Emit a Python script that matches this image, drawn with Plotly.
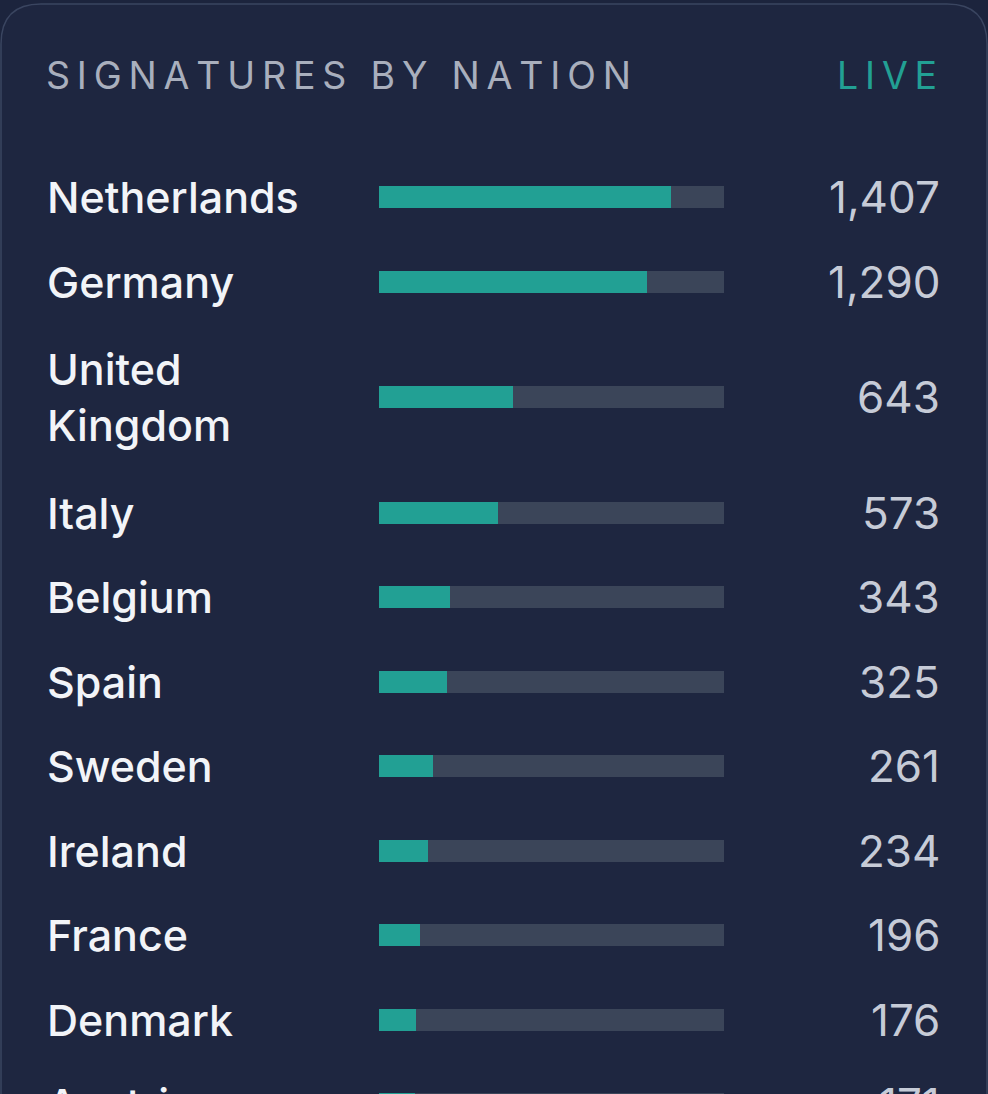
# signatures by nation card - horizontal bars on a dark card
import plotly.graph_objects as go

# data
nations = ["Netherlands", "Germany", "United Kingdom", "Italy", "Belgium", "Spain",
           "Sweden", "Ireland", "France", "Denmark", "Austria"]
signatures = [1407, 1290, 643, 573, 343, 325, 261, 234, 196, 176, 171]
scale_max = 1660  # full length of the grey track

title_text = "SIGNATURES BY NATION"
status_text = "LIVE"

# colours
page_bg = "#1c243d"
card_bg = "#1e2640"
card_border = "#3a4560"
teal = "#22a094"
track = "#3b4559"
name_col = "#f2f4f8"
value_col = "#c6cbd7"
title_col = "#a9afbd"

W, H = 988, 1094
FONT = "Inter, Roboto, sans-serif"


# spread the letters out like css letter-spacing
def spaced(text):
    return "\u2009".join(" " if c == " " else c for c in text)


# long names are wrapped on two lines
def wrap_name(name):
    return name.replace(" ", "<br>") if len(name) > 12 else name


# centre of every row, a two line row is taller
def row_centres(labels, top=154.75, line_h=62, pad=22.5):
    centres = []
    y = top
    for lab in labels:
        h = lab.count("<br>") * line_h + line_h + pad
        centres.append(y + h / 2)
        y += h
    return centres


labels = [wrap_name(n) for n in nations]
ys = row_centres(labels)

fig = go.Figure()
# grey track
fig.add_trace(go.Bar(x=[scale_max] * len(ys), y=ys, orientation="h", width=22,
                     marker=dict(color=track, line=dict(width=0)), hoverinfo="skip"))
# teal fill
fig.add_trace(go.Bar(x=signatures, y=ys, orientation="h", width=22,
                     marker=dict(color=teal, line=dict(width=0)),
                     hovertext=nations, hoverinfo="text+x"))

# the y axis runs in pixels from the top, so paper y is 1 - y / H
# (paper refs keep the half-visible last row on screen)
annotations = []
for lab, v, y in zip(labels, signatures, ys):
    annotations.append(dict(xref="paper", yref="paper", x=45 / W, y=1 - y / H, text=lab,
                            xanchor="left", yanchor="middle", align="left", showarrow=False,
                            font=dict(family=FONT, size=43, color=name_col, weight=500)))
    annotations.append(dict(xref="paper", yref="paper", x=942 / W, y=1 - y / H, text=f"{v:,}",
                            xanchor="right", yanchor="middle", showarrow=False,
                            font=dict(family=FONT, size=44, color=value_col, weight=400)))

annotations.append(dict(xref="paper", yref="paper", x=44 / W, y=1 - 75 / H, text=spaced(title_text),
                        xanchor="left", yanchor="middle", showarrow=False,
                        font=dict(family=FONT, size=37.5, color=title_col, weight=400)))
annotations.append(dict(xref="paper", yref="paper", x=939 / W, y=1 - 75 / H, text=spaced(status_text),
                        xanchor="right", yanchor="middle", showarrow=False,
                        font=dict(family=FONT, size=37.5, color=teal, weight=400)))

# card with rounded top corners, in paper coordinates
r = 40
px = lambda v: v / W
py = lambda v: 1 - v / H
card_path = (f"M {px(1)},{py(H + 50)} L {px(1)},{py(4 + r)} "
             f"Q {px(1)},{py(4)} {px(1 + r)},{py(4)} "
             f"L {px(987 - r)},{py(4)} Q {px(987)},{py(4)} {px(987)},{py(4 + r)} "
             f"L {px(987)},{py(H + 50)} Z")
shapes = [dict(type="path", xref="paper", yref="paper", layer="below", path=card_path,
               fillcolor=card_bg, line=dict(color=card_border, width=1.5))]

fig.update_layout(
    width=W, height=H,
    margin=dict(l=0, r=0, t=0, b=0),
    paper_bgcolor=page_bg, plot_bgcolor="rgba(0,0,0,0)",
    barmode="overlay", bargap=0, showlegend=False,
    xaxis=dict(domain=[379 / W, 724 / W], range=[0, scale_max], visible=False, fixedrange=True),
    yaxis=dict(domain=[0, 1], range=[H, 0], visible=False, fixedrange=True),
    annotations=annotations, shapes=shapes,
)

# remove the default page margin so the card fills the window
fig.write_html("out.html", config={"displayModeBar": False},
               post_script="document.body.style.margin='0';")
